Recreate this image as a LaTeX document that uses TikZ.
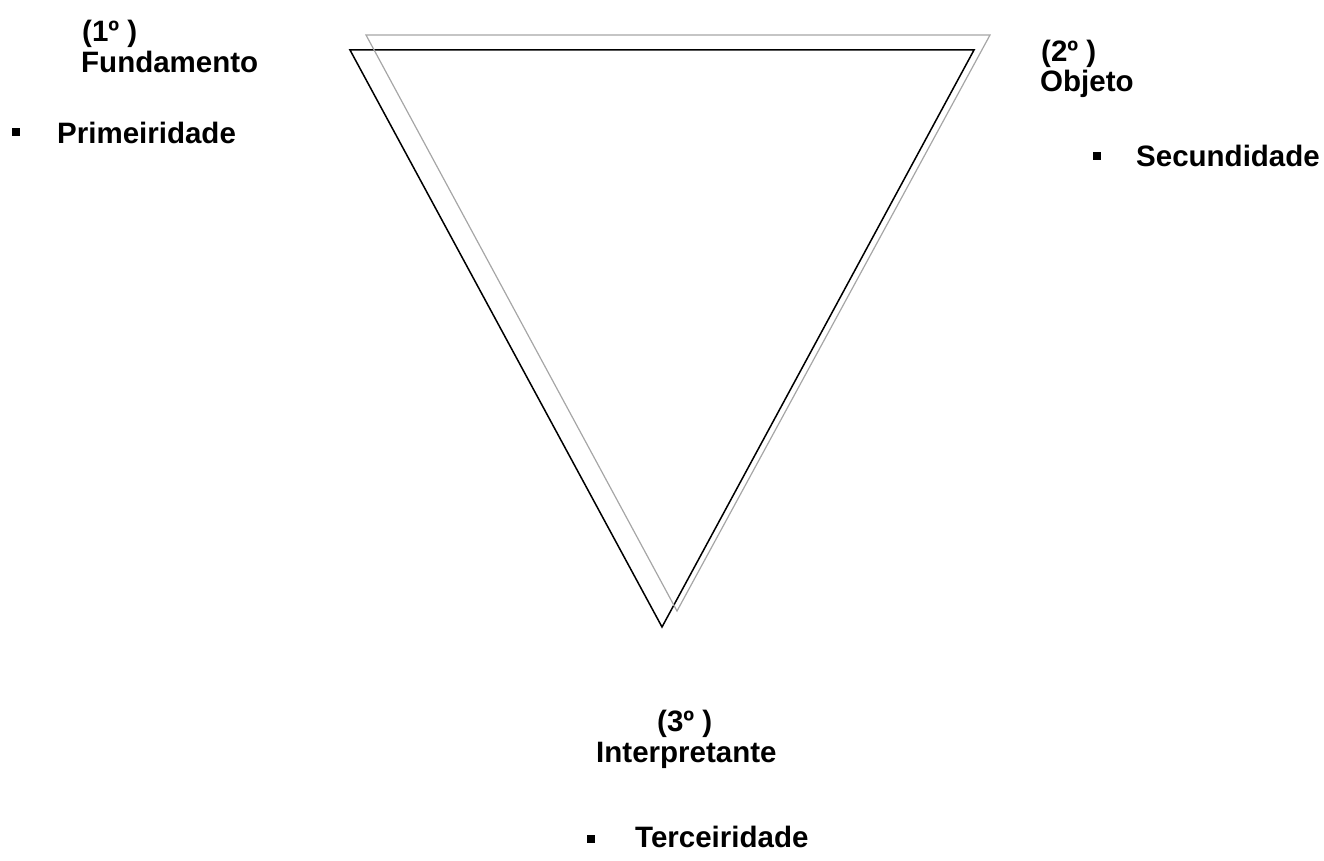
\documentclass[tikz,border=0pt]{standalone}
\usepackage{fontspec}
\setmainfont{Liberation Sans}
\begin{document}
\begin{tikzpicture}[x=1pt,y=-1pt,
  lbl/.style={anchor=base west,inner sep=0pt,font=\fontsize{29.5}{31}\selectfont\bfseries},
  bul/.style={fill=black,minimum size=7.5pt,inner sep=0pt,anchor=north west,draw=none},
  blk/.style={draw=black,line width=1.5pt,line join=miter},
  gry/.style={draw=black!35,line width=1.2pt,line join=miter}]
\useasboundingbox (0,0) rectangle (1324,861);
% black triangle
\coordinate (A) at (350,50);
\coordinate (B) at (974,50);
\coordinate (C) at (662,627);
\draw[blk] (A) -- (B) -- (C) -- cycle;
% gray shadow triangle
\coordinate (A2) at (366,35);
\coordinate (B2) at (990,35);
\coordinate (C2) at (677,611);
\draw[gry] (A2) -- (B2) -- (C2) -- cycle;
% labels
\node[lbl] (n1a) at (82,42) {(1º )};
\node[lbl] (n1b) at (81,73) {Fundamento};
\node[bul] (b1) at (12,128) {};
\node[lbl] (p1) at (57,144) {Primeiridade};
\node[lbl] (n2a) at (1041,62) {(2º )};
\node[lbl] (n2b) at (1040,92) {Objeto};
\node[bul] (b2) at (1093,152) {};
\node[lbl] (p2) at (1136,167) {Secundidade};
\node[lbl] (n3a) at (657,731) {(3º )};
\node[lbl] (n3b) at (596,762) {Interpretante};
\node[bul] (b3) at (587,835) {};
\node[lbl] (p3) at (635,847) {Terceiridade};
\end{tikzpicture}
\end{document}
